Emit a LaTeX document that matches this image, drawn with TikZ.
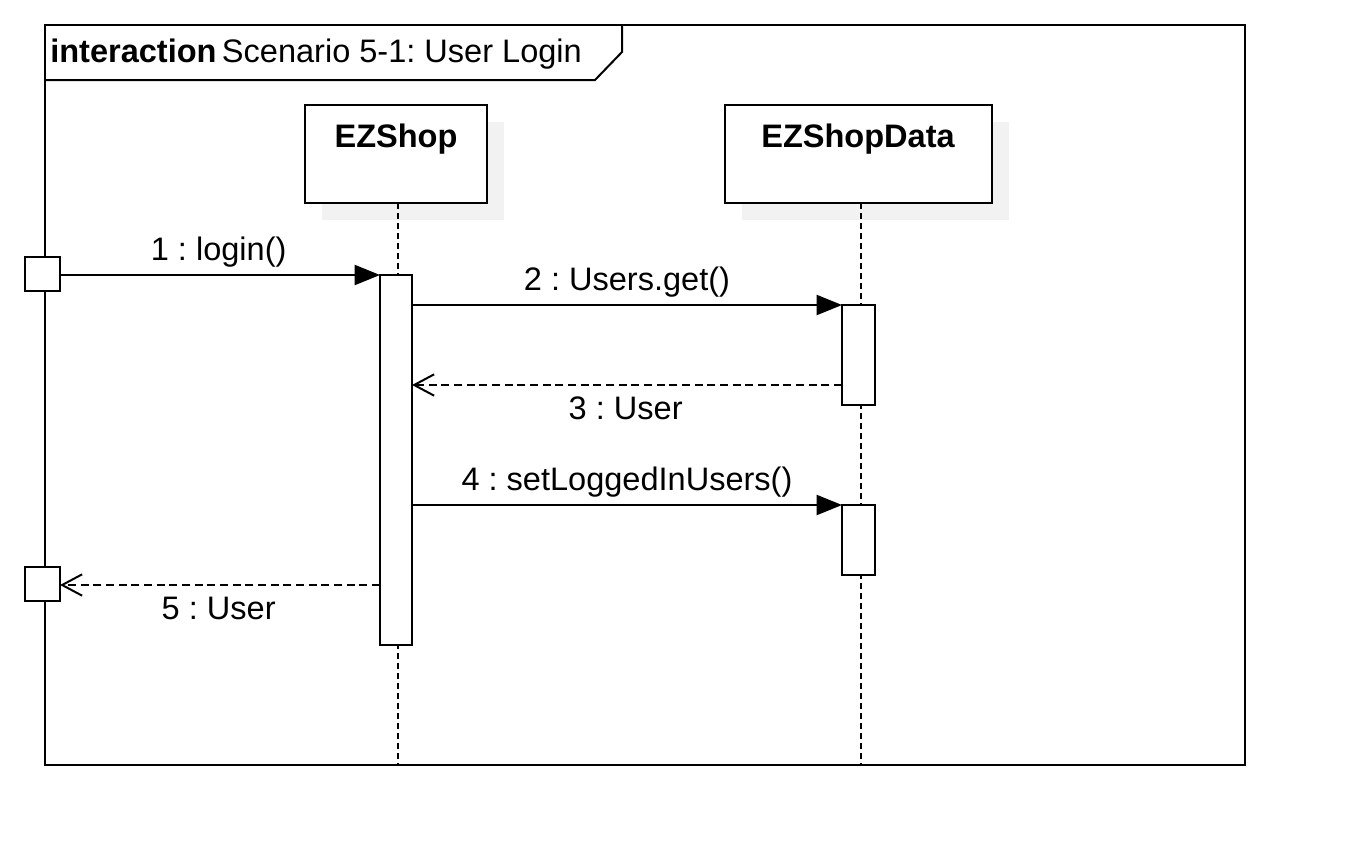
\documentclass[tikz,border=0pt]{standalone}
\usepackage{fontspec}
\setmainfont{Liberation Sans}
\frenchspacing
\usetikzlibrary{arrows.meta,positioning}
\definecolor{shadowgray}{HTML}{F2F2F2}
\tikzset{
  lifebox/.style={draw,fill=white,line width=1.5pt},
  lifeline/.style={line width=1.5pt,dash pattern=on 4.5pt off 3pt},
  actbox/.style={draw,fill=white,line width=1.5pt},
  call/.style={line width=1.5pt,-{Triangle[length=19pt,width=15pt]}},
  reply/.style={line width=1.5pt,dash pattern=on 6pt off 3.5pt,-{Straight Barb[length=15pt,width=16pt]}},
  msglabel/.style={font=\fontsize{24.4}{28}\selectfont,anchor=base,inner sep=0pt},
  upper/.style={msglabel,yshift=11pt},
  lower/.style={msglabel,yshift=-26pt}
}
\begin{document}
\begin{tikzpicture}[x=0.75pt,y=-0.75pt]
  \useasboundingbox (0,0) rectangle (1345,865);

  % frame with tab
  \draw[line width=1.5pt] (45,25) rectangle (1245,765);
  \draw[line width=1.5pt] (45,80) -- (595,80) -- (622,52) -- (622,25);
  \node[msglabel,anchor=base west] (title) at (50,62)
    {\textbf{interaction}\,Scenario 5-1: User Login};

  % lifeline heads
  \fill[shadowgray] (322,122) rectangle (504,220);
  \fill[shadowgray] (742,122) rectangle (1009,220);
  \draw[lifebox] (305,105) rectangle (487,203);
  \draw[lifebox] (725,105) rectangle (992,203);
  \node[msglabel,font=\fontsize{24.4}{28}\selectfont\bfseries] (shop) at (396,147) {EZShop};
  \node[msglabel,font=\fontsize{24.4}{28}\selectfont\bfseries] (data) at (858,147) {EZShopData};

  % lifelines
  \coordinate (shopTop) at (398,203);
  \coordinate (shopEnd) at (398,765);
  \coordinate (dataTop) at (861,203);
  \coordinate (dataEnd) at (861,765);
  \draw[lifeline] (shopTop) -- (shopEnd);
  \draw[lifeline] (dataTop) -- (dataEnd);

  % activations
  \draw[actbox] (380,275) rectangle (412,645);
  \draw[actbox] (842,305) rectangle (875,405);
  \draw[actbox] (842,505) rectangle (875,575);

  % gates
  \draw[actbox] (25,257) rectangle (60,291);
  \draw[actbox] (25,567) rectangle (60,601);

  % message end points
  \coordinate (g1) at (60,275);
  \coordinate (a1) at (380,275);
  \coordinate (s2) at (412,305);
  \coordinate (d2) at (842,305);
  \coordinate (d3) at (842,385);
  \coordinate (s3) at (412,385);
  \coordinate (s4) at (412,505);
  \coordinate (d4) at (842,505);
  \coordinate (a5) at (380,585);
  \coordinate (g5) at (60,585);

  % messages
  \draw[call] (g1) -- node[upper,xshift=-1pt] (m1) {1 : login()} (a1);
  \draw[call] (s2) -- node[upper] (m2) {2 : Users.get()} (d2);
  \draw[reply] (d3) -- node[lower,xshift=-1pt] (m3) {3 : User} (s3);
  \draw[call] (s4) -- node[upper] (m4) {4 : setLoggedInUsers()} (d4);
  \draw[reply] (a5) -- node[lower,xshift=-1pt] (m5) {5 : User} (g5);
\end{tikzpicture}
\end{document}
